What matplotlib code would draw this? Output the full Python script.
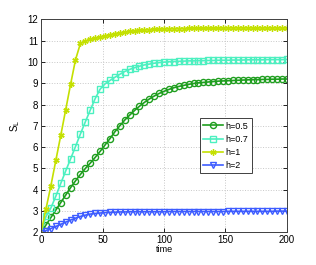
import numpy as np
import matplotlib as mpl
mpl.use('Agg')
import matplotlib.pyplot as plt

time = np.arange(0, 201, 4)

s_h05 = [2.0, 2.35, 2.7, 3.05, 3.4, 3.75, 4.1, 4.42, 4.72, 5.0,
         5.25, 5.52, 5.8, 6.1, 6.4, 6.72, 7.0, 7.27, 7.5, 7.72,
         7.92, 8.1, 8.26, 8.4, 8.52, 8.62, 8.71, 8.79, 8.85, 8.9,
         8.95, 8.99, 9.02, 9.04, 9.06, 9.08, 9.1, 9.11, 9.12, 9.13,
         9.14, 9.15, 9.16, 9.17, 9.17, 9.18, 9.18, 9.19, 9.19, 9.2,
         9.2]
s_h07 = [2.0, 2.75, 3.15, 3.7, 4.3, 4.88, 5.45, 6.03, 6.62, 7.19,
         7.74, 8.28, 8.72, 8.97, 9.13, 9.28, 9.42, 9.55, 9.65, 9.73,
         9.8, 9.86, 9.9, 9.94, 9.97, 9.99, 10.01, 10.02, 10.03, 10.04,
         10.05, 10.05, 10.06, 10.06, 10.07, 10.07, 10.08, 10.08, 10.08, 10.09,
         10.09, 10.09, 10.1, 10.1, 10.1, 10.1, 10.11, 10.11, 10.11, 10.11,
         10.12]
s_h1 = [2.0, 3.1, 4.2, 5.38, 6.55, 7.75, 8.95, 10.1, 10.87, 10.98,
        11.06, 11.12, 11.18, 11.23, 11.28, 11.33, 11.37, 11.4, 11.43, 11.46,
        11.48, 11.5, 11.52, 11.53, 11.54, 11.55, 11.56, 11.56, 11.57, 11.57,
        11.58, 11.58, 11.58, 11.59, 11.59, 11.59, 11.59, 11.6, 11.6, 11.6,
        11.6, 11.6, 11.6, 11.6, 11.6, 11.6, 11.6, 11.6, 11.6, 11.6,
        11.6]
s_h2 = [1.95, 2.08, 2.18, 2.28, 2.38, 2.48, 2.58, 2.67, 2.75, 2.81,
        2.86, 2.89, 2.91, 2.93, 2.94, 2.95, 2.96, 2.96, 2.97, 2.97,
        2.97, 2.97, 2.97, 2.97, 2.97, 2.97, 2.98, 2.98, 2.98, 2.98,
        2.98, 2.98, 2.98, 2.98, 2.98, 2.98, 2.98, 2.98, 2.99, 2.99,
        2.99, 2.99, 2.99, 2.99, 2.99, 2.99, 2.99, 2.99, 3.0, 3.0,
        3.0]

labels = ['h=0.5', 'h=0.7', 'h=1', 'h=2']

plt.rcParams['font.family'] = ['Liberation Sans', 'DejaVu Sans']
plt.rcParams['font.size'] = 7

fig = plt.figure(figsize=(3.16, 2.65), dpi=100)
ax = fig.add_axes([0.130, 0.123, 0.778, 0.804])

ax.plot(time, s_h05, '-', color='#1f9e1f', lw=1.2, marker='o', ms=4.4,
        mfc='none', mew=1.0, label=labels[0])
ax.plot(time, s_h07, '-', color='#4cf0c0', lw=1.2, marker='s', ms=4.0,
        mfc='none', mew=1.0, label=labels[1])
ax.plot(time, s_h1, '-', color='#c4e000', lw=1.2, marker=(6, 2, 0), ms=4.5,
        mew=1.0, label=labels[2])
ax.plot(time, s_h2, '-', color='#3d5cff', lw=1.2, marker='v', ms=4.4,
        mfc='none', mew=1.0, label=labels[3])

ax.set_xlim(0, 200)
ax.set_ylim(2, 12)
ax.set_xticks([0, 50, 100, 150, 200])
ax.set_yticks(range(2, 13))
ax.tick_params(direction='in', length=3, width=0.6, top=True, right=True,
               labelsize=7, pad=2)
ax.grid(True, linestyle=':', color='#c8c8c8', linewidth=0.7)
for sp in ax.spines.values():
    sp.set_linewidth(0.7)
    sp.set_color('#404040')

ax.set_xlabel('time', fontsize=6.5, labelpad=0)
ax.set_ylabel(r'S$_\mathrm{L}$', fontsize=7, labelpad=4)

leg = ax.legend(loc='upper left', bbox_to_anchor=(0.645, 0.537),
                fontsize=6.5, handlelength=2.2, handletextpad=0.3,
                borderpad=0.4, labelspacing=0.45, fancybox=False,
                framealpha=1, borderaxespad=0)
leg.get_frame().set_edgecolor('#404040')
leg.get_frame().set_linewidth(0.7)

plt.savefig('out.png', dpi=100)
